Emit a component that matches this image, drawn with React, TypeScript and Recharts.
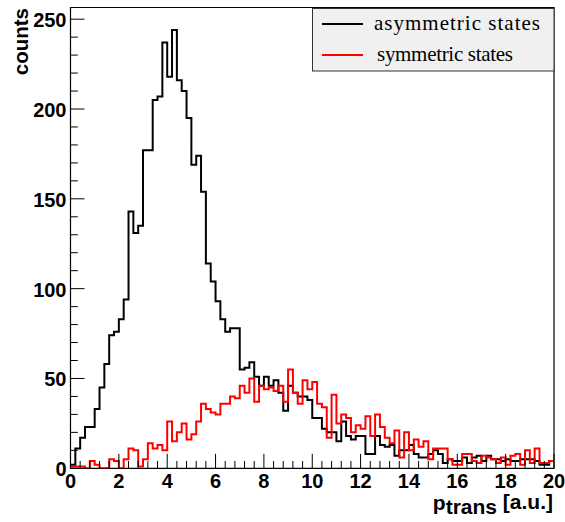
import { ComposedChart, Line, XAxis, YAxis, ReferenceArea, Legend, Label } from 'recharts';

// 100 bins of width 0.2 between 0 and 20, counts
const BIN_WIDTH = 0.2;

const ASYM_COUNTS = [
  2, 11, 17, 23, 23, 33, 45, 58, 74, 76,
  83, 94, 143, 131, 135, 177, 177, 205, 207, 237,
  218, 244, 216, 210, 195, 169, 174, 154, 114, 104,
  93, 83, 76, 78, 78, 55, 56, 59, 51, 46,
  51, 46, 49, 42, 32, 46, 42, 40, 40, 38,
  28, 28, 22, 20, 20, 15, 26, 18, 16, 18,
  18, 8, 8, 18, 13, 12, 13, 7, 10, 10,
  13, 8, 6, 6, 8, 10, 8, 3, 5, 4,
  4, 6, 3, 6, 7, 4, 7, 5, 5, 4,
  5, 4, 4, 5, 5, 5, 4, 2, 2, 4,
];

const SYM_COUNTS = [
  1, 1, 1, 0, 4, 2, 0, 0, 5, 4,
  0, 5, 11, 10, 1, 5, 14, 11, 13, 10,
  26, 15, 20, 25, 16, 19, 26, 36, 33, 31,
  30, 36, 36, 40, 39, 46, 42, 50, 37, 46,
  44, 45, 43, 46, 37, 55, 42, 36, 49, 44,
  48, 36, 34, 17, 41, 25, 30, 28, 20, 24,
  22, 29, 18, 30, 23, 17, 14, 21, 6, 20,
  10, 16, 12, 15, 5, 11, 11, 11, 5, 2,
  2, 8, 8, 4, 3, 7, 6, 5, 3, 6,
  2, 7, 8, 2, 10, 3, 11, 3, 3, 4,
];

const SERIES_NAMES = ['asymmetric states', 'symmetric states'];
const X_MAJOR = [0, 2, 4, 6, 8, 10, 12, 14, 16, 18, 20];
const Y_MAJOR = [0, 50, 100, 150, 200, 250];
const Y_MAX = 256.5;

const X_TICKS = Array.from({ length: 51 }, (_, i) => +(i * 0.4).toFixed(1));
const Y_TICKS = Array.from({ length: 26 }, (_, i) => i * 10);

// one point per bin left edge, plus the right edge of the last bin so
// stepAfter draws the final bin across
const data = ASYM_COUNTS.map((a, i) => ({ x: +(i * BIN_WIDTH).toFixed(1), asym: a, sym: SYM_COUNTS[i] }));
data.push({ x: 20, asym: ASYM_COUNTS[99], sym: SYM_COUNTS[99] });

const SANS = '"Liberation Sans", Arial, Helvetica, sans-serif';
const SERIF = '"Liberation Serif", "Times New Roman", serif';

function XTick({ x, y, payload }: any) {
  const v = payload.value;
  const major = X_MAJOR.includes(v);
  return (
    <g>
      <line x1={x} x2={x} y1={y} y2={y - (major ? 14.5 : 7.3)} stroke="#000" strokeWidth={1} />
      {major && (
        <text x={x} y={y + 20} textAnchor="middle" fontFamily={SANS} fontWeight="bold" fontSize={20} fill="#000">
          {v}
        </text>
      )}
    </g>
  );
}

function YTick({ x, y, payload }: any) {
  const v = payload.value;
  const major = Y_MAJOR.includes(v);
  return (
    <g>
      <line x1={x} x2={x + (major ? 14 : 7.3)} y1={y} y2={y} stroke="#000" strokeWidth={1} />
      {major && (
        <text x={x - 4} y={y + 8} textAnchor="end" fontFamily={SANS} fontWeight="bold" fontSize={20} fill="#000">
          {v}
        </text>
      )}
    </g>
  );
}

function LegendBox() {
  return (
    <svg width={243} height={64} style={{ display: 'block' }}>
      <rect x={0.5} y={0.5} width={241.5} height={62.5} fill="#f0f0f0" stroke="#333" strokeWidth={1} />
      <line x1={10} x2={51} y1={16} y2={16} stroke="#000" strokeWidth={2} />
      <text x={62} y={22} fontFamily={SERIF} fontSize={21} textLength={166} lengthAdjust="spacing" fill="#000">
        {SERIES_NAMES[0]}
      </text>
      <line x1={10} x2={51} y1={47} y2={47} stroke="#f00" strokeWidth={2} />
      <text x={65} y={53} fontFamily={SERIF} fontSize={21} textLength={136} lengthAdjust="spacing" fill="#000">
        {SERIES_NAMES[1]}
      </text>
    </svg>
  );
}

export default function App() {
  return (
    <div style={{ position: 'absolute', left: 0, top: 0, background: '#fff' }}>
      <ComposedChart width={565} height={522} data={data} margin={{ top: 7.5, right: 11, left: 0, bottom: 0 }}>
        <XAxis
          dataKey="x" type="number" domain={[0, 20]} ticks={X_TICKS} interval={0}
          height={53.7} tickLine={false} axisLine={false} tickSize={0} tickMargin={0}
          tick={<XTick />}
        >
          <Label
            content={({ viewBox }: any) => (
              <text
                x={viewBox.x + viewBox.width - 1} y={510} textAnchor="end"
                fontFamily={SANS} fontWeight="bold" fontSize={21} fill="#000"
              >
                <tspan>p</tspan>
                <tspan dy={4}>trans</tspan>
                <tspan dy={-5}> [a.u.]</tspan>
              </text>
            )}
          />
        </XAxis>
        <YAxis
          type="number" domain={[0, Y_MAX]} ticks={Y_TICKS} interval={0} allowDataOverflow
          width={70.5} tickLine={false} axisLine={false} tickSize={0} tickMargin={0}
          tick={<YTick />}
        >
          <Label
            content={() => (
              <text
                x={28} y={8} transform="rotate(-90 28 8)" textAnchor="end"
                fontFamily={SANS} fontWeight="bold" fontSize={20.5} fill="#000"
              >
                counts
              </text>
            )}
          />
        </YAxis>
        <Line
          type="stepAfter" dataKey="asym" name={SERIES_NAMES[0]}
          stroke="#000" strokeWidth={2} dot={false} isAnimationActive={false}
        />
        <Line
          type="stepAfter" dataKey="sym" name={SERIES_NAMES[1]}
          stroke="#ff0000" strokeWidth={2} dot={false} isAnimationActive={false}
        />
        {/* ROOT-style frame round the pad */}
        <ReferenceArea x1={0} x2={20} y1={0} y2={Y_MAX} fill="none" stroke="#000" strokeWidth={1.2} ifOverflow="visible" />
        <Legend
          layout="vertical" align="center" verticalAlign="middle"
          wrapperStyle={{ position: 'absolute', left: 312, top: 8, width: 243, height: 64 }}
          content={() => <LegendBox />}
        />
      </ComposedChart>
    </div>
  );
}
